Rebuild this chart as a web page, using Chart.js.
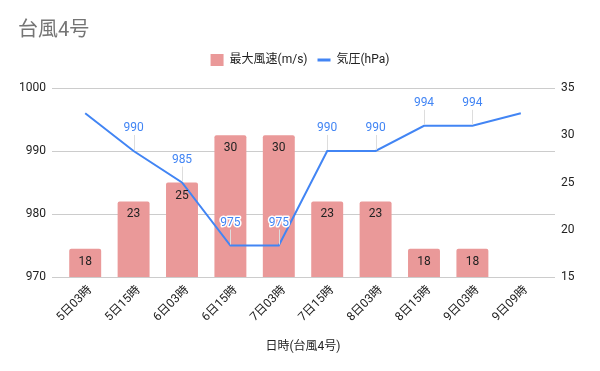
<!DOCTYPE html>
<html><head><meta charset="utf-8">
<script src="https://cdn.jsdelivr.net/npm/chart.js@4"></script>
<style>html,body{margin:0;padding:0;background:#fff}#wrap{width:600px;height:371px}</style>
</head><body><div id="wrap"><canvas id="c" width="600" height="371"></canvas></div>
<script>
const categories = ['5日03時','5日15時','6日03時','6日15時','7日03時','7日15時','8日03時','8日15時','9日03時','9日09時'];
const windSpeed = [18,23,25,30,30,23,23,18,18,null];
const pressure = [996,990,985,975,975,990,990,994,994,996];
const pressureLabelShown = [false,true,true,true,true,true,true,true,true,false];
const titleText = '台風4号';
const xAxisTitle = '日時(台風4号)';
const windLabel = '最大風速(m/s)';
const pressureLabel = '気圧(hPa)';

const FAMILY = "Roboto, 'Noto Sans CJK JP', sans-serif";
const BAR_COLOR = '#ea9999';
const LINE_COLOR = '#4285f4';
Chart.defaults.font.family = FAMILY;
Chart.defaults.color = '#222';

const gridPlugin = {
  id: 'extGrid',
  beforeDatasetsDraw(chart) {
    const y = chart.scales.yP, ctx = chart.ctx, a = chart.chartArea;
    ctx.save();
    ctx.strokeStyle = '#cccccc';
    ctx.lineWidth = 1;
    y.ticks.forEach(t => {
      const py = Math.round(y.getPixelForValue(t.value)) + 0.5;
      ctx.beginPath(); ctx.moveTo(a.left - 9, py); ctx.lineTo(a.right + 10, py); ctx.stroke();
    });
    ctx.restore();
  }
};

const labelPlugin = {
  id: 'valLabels',
  afterDatasetsDraw(chart) {
    const ctx = chart.ctx;
    ctx.save();
    ctx.font = '12px ' + FAMILY;
    ctx.textAlign = 'center';
    ctx.textBaseline = 'middle';
    chart.getDatasetMeta(0).data.forEach((el, i) => {
      if (windSpeed[i] == null) return;
      ctx.fillStyle = '#222';
      ctx.fillText(String(windSpeed[i]), el.x, el.y + 13);
    });
    chart.getDatasetMeta(1).data.forEach((el, i) => {
      if (!pressureLabelShown[i]) return;
      ctx.strokeStyle = '#dddddd';
      ctx.lineWidth = 1;
      ctx.beginPath();
      ctx.moveTo(Math.round(el.x) + 0.5, el.y - 1);
      ctx.lineTo(Math.round(el.x) + 0.5, el.y - 16);
      ctx.stroke();
      const t = String(pressure[i]);
      ctx.lineJoin = 'round';
      ctx.lineWidth = 3;
      ctx.strokeStyle = '#ffffff';
      ctx.strokeText(t, el.x, el.y - 23);
      ctx.fillStyle = LINE_COLOR;
      ctx.fillText(t, el.x, el.y - 23);
    });
    ctx.restore();
  }
};

new Chart(document.getElementById('c'), {
  data: {
    labels: categories,
    datasets: [
      { type: 'bar', label: windLabel, data: windSpeed, yAxisID: 'yW',
        backgroundColor: BAR_COLOR, borderRadius: {topLeft: 2, topRight: 2}, borderSkipped: 'bottom',
        barPercentage: 0.66, categoryPercentage: 1, order: 2 },
      { type: 'line', label: pressureLabel, data: pressure, yAxisID: 'yP',
        borderColor: LINE_COLOR, backgroundColor: LINE_COLOR, borderWidth: 2, pointRadius: 0,
        tension: 0, fill: false, order: 1 }
    ]
  },
  options: {
    responsive: false,
    animation: false,
    devicePixelRatio: 1,
    layout: { padding: { left: 18, right: 18, top: 0, bottom: 0 } },
    plugins: {
      tooltip: { enabled: false },
      title: { display: true, text: titleText, align: 'start', color: '#757575',
        font: { size: 20, weight: 'normal', family: FAMILY }, padding: { top: 19, bottom: 1 } },
      subtitle: { display: true, text: '', weight: 500, font: { size: 10 }, padding: 0 },
      legend: {
        position: 'top', align: 'center',
        labels: {
          usePointStyle: true, pointStyleWidth: 13, boxHeight: 12, padding: 10,
          font: { size: 12, family: FAMILY }, color: '#222',
          generateLabels() {
            return [
              { text: windLabel, fillStyle: BAR_COLOR, strokeStyle: BAR_COLOR, lineWidth: 0, pointStyle: 'rect', datasetIndex: 0, hidden: false, fontColor: '#222' },
              { text: pressureLabel, fillStyle: LINE_COLOR, strokeStyle: LINE_COLOR, lineWidth: 3, pointStyle: 'line', datasetIndex: 1, hidden: false, fontColor: '#222' }
            ];
          }
        }
      }
    },
    scales: {
      x: {
        type: 'category', offset: true,
        grid: { display: false, drawTicks: false }, border: { display: false },
        ticks: { minRotation: 45, maxRotation: 45, autoSkip: false, padding: 6, labelOffset: 5, font: { size: 12 }, color: '#222' },
        title: { display: true, text: xAxisTitle, font: { size: 12 }, color: '#222', padding: { top: 0, bottom: 17 } },
        afterFit(s) { s.height = 94; }
      },
      yP: {
        position: 'left', min: 970, max: 1000,
        grid: { display: false, drawTicks: false }, border: { display: false },
        ticks: { stepSize: 10, padding: 15, font: { size: 12 }, color: '#222', callback: v => String(v) },
        afterFit(s) { s.width = 43; }
      },
      yW: {
        position: 'right', min: 15, max: 35,
        grid: { display: false, drawTicks: false }, border: { display: false },
        ticks: { stepSize: 5, padding: 16, font: { size: 12 }, color: '#222', callback: v => String(v) },
        afterFit(s) { s.width = 37; }
      }
    }
  },
  plugins: [gridPlugin, labelPlugin]
});
</script>
</body></html>
